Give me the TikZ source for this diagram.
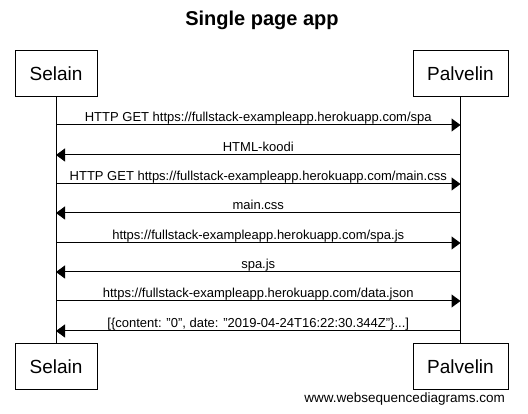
\documentclass[tikz,border=0pt]{standalone}
\usepackage{fontspec}
\setmainfont{Liberation Sans}
\usetikzlibrary{arrows.meta}

\tikzset{
    actor/.style={draw, line width=1pt, inner sep=0pt, font=\fontsize{19}{22}\selectfont},
    msg/.style={line width=1pt, -{Triangle[length=9pt, width=13pt]}},
    msglabel/.style={anchor=base, yshift=3pt, inner sep=0pt, font=\fontsize{13}{15}\selectfont}
}

\begin{document}
\begin{tikzpicture}[x=1pt, y=-1pt]
    \useasboundingbox (0, 0) rectangle (528, 414);

    \node[font=\fontsize{20}{24}\selectfont\bfseries] (title) at (262, 20) {Single page app};

    \node[actor, minimum width=82pt, minimum height=46pt] (selTop) at (56, 74) {Selain};
    \node[actor, minimum width=95pt, minimum height=46pt] (palTop) at (460.5, 74) {Palvelin};
    \node[actor, minimum width=82pt, minimum height=46pt] (selBot) at (56, 366.5) {Selain};
    \node[actor, minimum width=95pt, minimum height=46pt] (palBot) at (460.5, 366.5) {Palvelin};

    \draw[line width=1pt] (selTop) -- (selBot);
    \draw[line width=1pt] (palTop) -- (palBot);

    % points on the lifelines
    \foreach \i/\y in {1/125, 2/155, 3/184, 4/213, 5/243, 6/272, 7/301, 8/331} {
        \coordinate (s\i) at (selTop.south |- 0, \y);
        \coordinate (p\i) at (palTop.south |- 0, \y);
    }

    \draw[msg] (s1) -- node[msglabel] {HTTP GET https://fullstack-exampleapp.herokuapp.com/spa} (p1);
    \draw[msg] (p2) -- node[msglabel] {HTML-koodi} (s2);
    \draw[msg] (s3) -- node[msglabel] {HTTP GET https://fullstack-exampleapp.herokuapp.com/main.css} (p3);
    \draw[msg] (p4) -- node[msglabel] {main.css} (s4);
    \draw[msg] (s5) -- node[msglabel] {https://fullstack-exampleapp.herokuapp.com/spa.js} (p5);
    \draw[msg] (p6) -- node[msglabel] {spa.js} (s6);
    \draw[msg] (s7) -- node[msglabel] {https://fullstack-exampleapp.herokuapp.com/data.json} (p7);
    \draw[msg] (p8) -- node[msglabel] {[\{content: "0", date: "2019-04-24T16:22:30.344Z"\}...]} (s8);

    \node[anchor=east, inner sep=0pt, font=\fontsize{13.5}{16}\selectfont] (credit) at (505, 399) {www.websequencediagrams.com};
\end{tikzpicture}
\end{document}
